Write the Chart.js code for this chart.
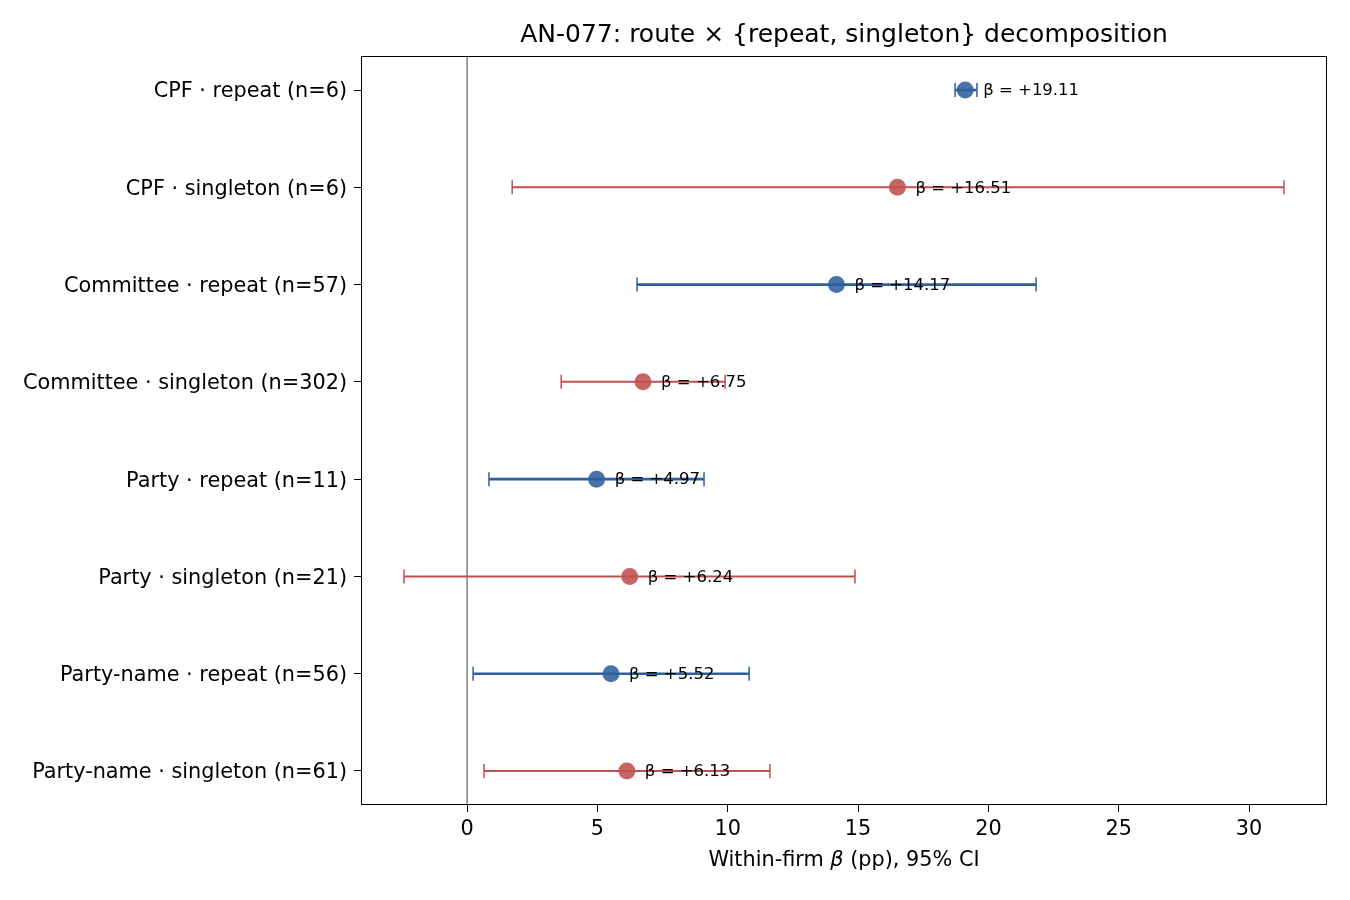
<!DOCTYPE html>
<html>
<head>
<meta charset="utf-8">
<script src="https://cdn.jsdelivr.net/npm/chart.js@4.4.1/dist/chart.umd.min.js"></script>
<style>
  html, body { margin: 0; padding: 0; background: #fff; }
  #wrap { width: 1350px; height: 900px; position: relative; }
</style>
</head>
<body>
<div id="wrap"><canvas id="chart"></canvas></div>
<script>
// rows, top to bottom
const labels = [
    "CPF · repeat (n=6)",
    "CPF · singleton (n=6)",
    "Committee · repeat (n=57)",
    "Committee · singleton (n=302)",
    "Party · repeat (n=11)",
    "Party · singleton (n=21)",
    "Party-name · repeat (n=56)",
    "Party-name · singleton (n=61)"
];
const kind = ["repeat", "singleton", "repeat", "singleton", "repeat", "singleton", "repeat", "singleton"];
const beta = [19.11, 16.51, 14.17, 6.75, 4.97, 6.24, 5.52, 6.13];
const ciLow = [18.72, 1.73, 6.52, 3.61, 0.84, -2.42, 0.23, 0.65];
const ciHigh = [19.56, 31.34, 21.83, 9.90, 9.09, 14.88, 10.82, 11.62];
const xTicks = [0, 5, 10, 15, 20, 25, 30];

const BLUE = "#2f5f9c";
const RED = "#c0504d";
const colorOf = k => k === "repeat" ? BLUE : RED;

const FONT = "'DejaVu Sans', sans-serif";

const errorBars = {
    id: "errorBars",
    beforeDatasetsDraw(chart) {
        const {ctx, chartArea, scales: {x, y}} = chart;
        ctx.save();
        // zero line
        ctx.strokeStyle = "#808080";
        ctx.lineWidth = 1.5;
        const x0 = x.getPixelForValue(0);
        ctx.beginPath();
        ctx.moveTo(x0, chartArea.top);
        ctx.lineTo(x0, chartArea.bottom);
        ctx.stroke();

        beta.forEach((b, i) => {
            const py = y.getPixelForValue(i);
            const a = x.getPixelForValue(ciLow[i]);
            const c = x.getPixelForValue(ciHigh[i]);
            ctx.strokeStyle = colorOf(kind[i]);
            ctx.lineWidth = kind[i] === "repeat" ? 2.6 : 2;
            ctx.beginPath();
            ctx.moveTo(a, py);
            ctx.lineTo(c, py);
            ctx.stroke();
            ctx.lineWidth = 1.5;
            ctx.beginPath();
            ctx.moveTo(a, py - 7);
            ctx.lineTo(a, py + 7);
            ctx.moveTo(c, py - 7);
            ctx.lineTo(c, py + 7);
            ctx.stroke();
        });
        ctx.restore();
    },
    afterDatasetsDraw(chart) {
        const {ctx, chartArea, scales: {x, y}} = chart;
        ctx.save();
        ctx.fillStyle = "#000";
        ctx.font = "16.5px " + FONT;
        ctx.textBaseline = "middle";
        ctx.textAlign = "left";
        beta.forEach((b, i) => {
            const px = x.getPixelForValue(b) + 18;
            const py = y.getPixelForValue(i);
            ctx.fillText("β = +" + b.toFixed(2), px, py + 1);
        });

        // frame
        ctx.strokeStyle = "#000";
        ctx.lineWidth = 1;
        ctx.strokeRect(chartArea.left + 0.5, chartArea.top + 0.5,
            chartArea.right - chartArea.left - 1, chartArea.bottom - chartArea.top - 1);

        // title
        const cx = (chartArea.left + chartArea.right) / 2;
        ctx.textAlign = "center";
        ctx.textBaseline = "alphabetic";
        ctx.font = "25px " + FONT;
        ctx.fillText("AN-077: route × {repeat, singleton} decomposition", cx, 42);

        // x axis title with italic beta
        const parts = [
            ["Within-firm ", "20.8px " + FONT],
            ["β", "italic 20.8px " + FONT],
            [" (pp), 95% CI", "20.8px " + FONT]
        ];
        let total = 0;
        parts.forEach(p => { ctx.font = p[1]; total += ctx.measureText(p[0]).width; });
        let sx = cx - total / 2;
        ctx.textAlign = "left";
        parts.forEach(p => {
            ctx.font = p[1];
            ctx.fillText(p[0], sx, 866);
            sx += ctx.measureText(p[0]).width;
        });
        ctx.restore();
    }
};

new Chart(document.getElementById("chart"), {
    type: "scatter",
    data: {
        datasets: [{
            data: beta.map((b, i) => ({x: b, y: i})),
            pointRadius: 8.5,
            pointHoverRadius: 8.5,
            pointBackgroundColor: kind.map(k => colorOf(k) + "e0"),
            pointBorderColor: kind.map(k => colorOf(k) + "e0"),
            pointBorderWidth: 0
        }]
    },
    options: {
        responsive: true,
        maintainAspectRatio: false,
        animation: false,
        layout: {padding: {left: 0, right: 23, top: 56, bottom: 0}},
        plugins: {
            legend: {display: false},
            tooltip: {enabled: false}
        },
        scales: {
            x: {
                type: "linear",
                min: -4.07,
                max: 32.99,
                afterBuildTicks: s => { s.ticks = xTicks.map(v => ({value: v})); },
                afterFit: s => { s.height = 95; },
                grid: {drawOnChartArea: false, drawTicks: true, tickLength: 7, color: "#000", tickWidth: 1},
                border: {display: false},
                ticks: {color: "#000", font: {family: FONT, size: 20.8}, padding: 5, maxRotation: 0}
            },
            y: {
                type: "linear",
                reverse: true,
                min: -0.35,
                max: 7.35,
                afterBuildTicks: s => { s.ticks = labels.map((l, i) => ({value: i})); },
                afterFit: s => { s.width = 361; },
                grid: {drawOnChartArea: false, drawTicks: true, tickLength: 7, color: "#000", tickWidth: 1},
                border: {display: false},
                ticks: {
                    color: "#000",
                    font: {family: FONT, size: 20.8},
                    padding: 7,
                    labelOffset: 2,
                    callback: v => labels[v]
                }
            }
        }
    },
    plugins: [errorBars]
});
</script>
</body>
</html>
